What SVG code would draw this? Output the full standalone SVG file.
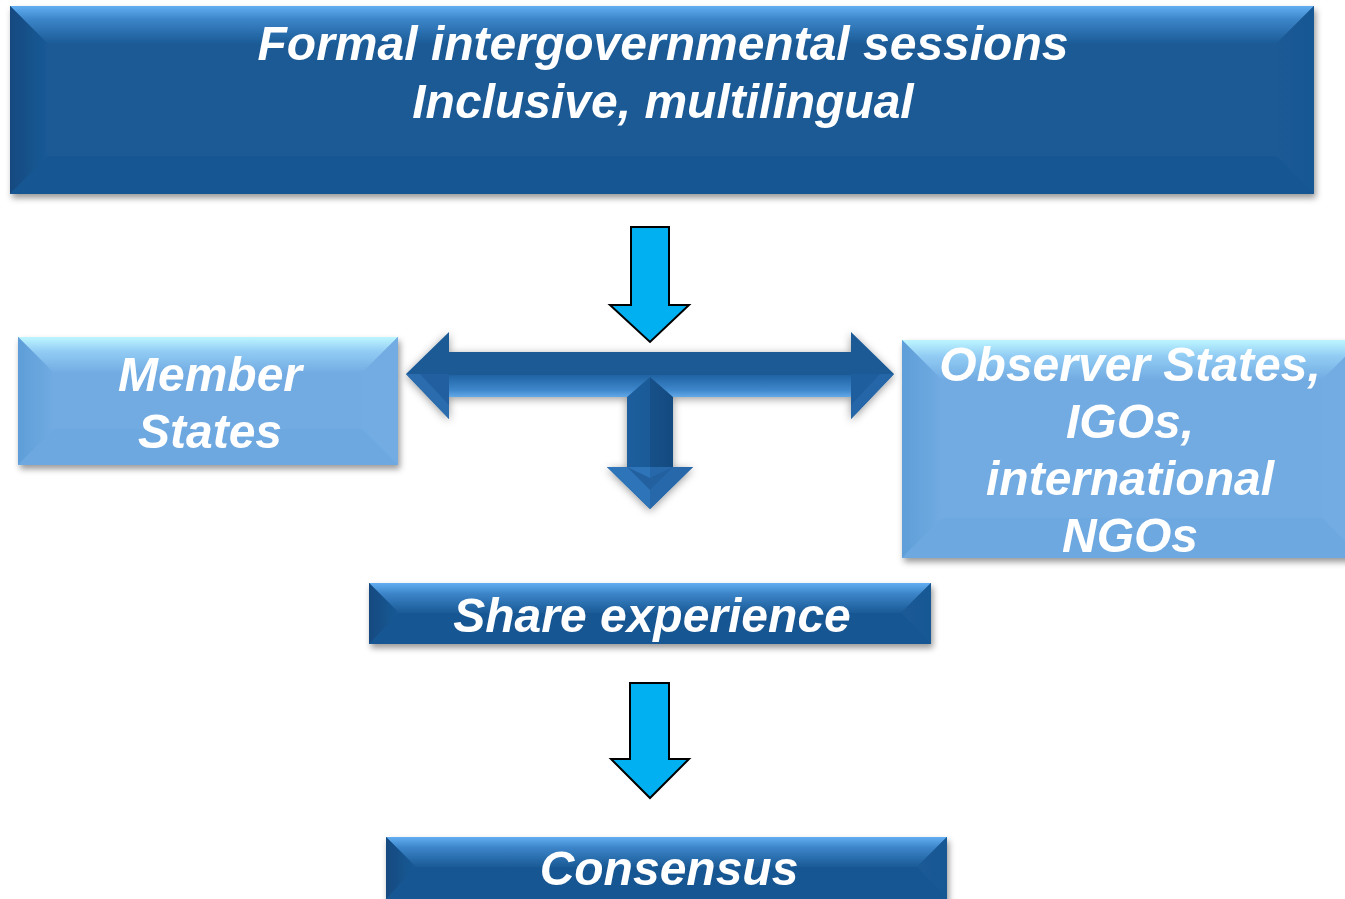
<svg xmlns="http://www.w3.org/2000/svg" width="1345" height="899" viewBox="0 0 1345 899">
<defs>
<style>
.t{font-family:"Liberation Sans",Arial,sans-serif;font-weight:bold;font-style:italic;font-size:48px;fill:#fff;text-anchor:middle}
.dm{fill:#1A5A96}
.dt{fill:url(#gDT)}
.dl{fill:url(#gDL)}
.dr{fill:url(#gDR)}
.db{fill:#185692}
.lm{fill:#71ABE2}
.lt{fill:url(#gLT)}
.ll{fill:url(#gLL)}
.lr{fill:#72ACE2}
.lb{fill:#6DA8E0}
.cy{fill:#00B0F0;stroke:#000;stroke-width:2;stroke-linejoin:miter}
</style>
<linearGradient id="gDT" x1="0" y1="0" x2="0" y2="1">
<stop offset="0" stop-color="#63AEF2"/><stop offset="0.35" stop-color="#3C85C9"/><stop offset="1" stop-color="#1A5A96"/>
</linearGradient>
<linearGradient id="gDL" x1="0" y1="0" x2="1" y2="0">
<stop offset="0" stop-color="#134A80"/><stop offset="1" stop-color="#1A5A96"/>
</linearGradient>
<linearGradient id="gDR" x1="0" y1="0" x2="1" y2="0">
<stop offset="0" stop-color="#1A5A96"/><stop offset="1" stop-color="#195893"/>
</linearGradient>
<linearGradient id="gLT" x1="0" y1="0" x2="0" y2="1">
<stop offset="0" stop-color="#BDF6FF"/><stop offset="0.4" stop-color="#92CCF4"/><stop offset="1" stop-color="#71ABE2"/>
</linearGradient>
<linearGradient id="gLL" x1="0" y1="0" x2="1" y2="0">
<stop offset="0" stop-color="#5E9ED8"/><stop offset="1" stop-color="#71ABE2"/>
</linearGradient>
<linearGradient id="gStrip" x1="0" y1="0" x2="0" y2="1">
<stop offset="0" stop-color="#1F63A4"/><stop offset="0.7" stop-color="#3F88CB"/><stop offset="1" stop-color="#62A9E8"/>
</linearGradient>
<linearGradient id="gStem" x1="0" y1="0" x2="1" y2="0">
<stop offset="0" stop-color="#1C5E9E"/><stop offset="0.5" stop-color="#1A5A97"/><stop offset="0.5" stop-color="#175088"/><stop offset="1" stop-color="#134A80"/>
</linearGradient>
<filter id="sh" x="-5%" y="-10%" width="110%" height="130%">
<feDropShadow dx="2" dy="4" stdDeviation="3" flood-color="#000" flood-opacity="0.4"/>
</filter>
<filter id="ash" x="-10%" y="-20%" width="120%" height="150%">
<feDropShadow dx="0" dy="2" stdDeviation="4" flood-color="#000" flood-opacity="0.4"/>
</filter>
</defs>
<rect width="1345" height="899" fill="#fff"/>

<g id="connectors">
<g id="arrow-top">
<polygon class="cy" points="631,227 669,227 669,305 689,305 650,342 610,305 631,305"/>
</g>
<g id="arrow-split">
<path class="dm" filter="url(#ash)" d="M406,374 L449,332 L449,352 L851,352 L851,332 L894,374 L851,419 L851,397 L673,397 L673,467 L693,467 L650,509 L607,467 L627,467 L627,397 L449,397 L449,419 Z"/>
<rect x="449" y="375" width="402" height="22" fill="url(#gStrip)"/>
<polygon points="406,374 449,374 449,419" fill="#2A6CAD"/>
<polygon points="449,374 420,374 449,405" fill="#225FA0"/>
<polygon points="894,374 851,374 851,419" fill="#2566A8"/>
<polygon points="851,374 880,374 851,405" fill="#1F5E9E"/>
<polygon points="627,397 650,377 673,397 673,467 627,467" fill="url(#gStem)"/>
<polygon points="607,467 650,467 650,509" fill="#2E74B8"/>
<polygon points="650,467 693,467 650,509" fill="#2668AA"/>
<polygon points="627,467 650,478 673,467 650,490" fill="#2260A0"/>
</g>
<g id="arrow-bottom">
<polygon class="cy" points="630,683 669,683 669,759 689,759 650,798 611,759 630,759"/>
</g>
</g>

<g id="node-formal" filter="url(#sh)">
<rect class="dm" x="10" y="6" width="1304" height="188"/>
<polygon class="dt" points="10,6 1314,6 1276,44 48,44"/>
<polygon class="dl" points="10,6 48,44 48,156 10,194"/>
<polygon class="dr" points="1314,6 1276,44 1276,156 1314,194"/>
<polygon class="db" points="10,194 48,156 1276,156 1314,194"/>
<text class="t" x="663" y="60">Formal intergovernmental sessions</text>
<text class="t" x="663" y="118">Inclusive, multilingual</text>
</g>

<g id="node-member" filter="url(#sh)">
<rect class="lm" x="18" y="337" width="380" height="128"/>
<polygon class="lt" points="18,337 398,337 362,373 54,373"/>
<polygon class="ll" points="18,337 54,373 54,429 18,465"/>
<polygon class="lr" points="398,337 362,373 362,429 398,465"/>
<polygon class="lb" points="18,465 54,429 362,429 398,465"/>
<text class="t" x="210" y="391">Member</text>
<text class="t" x="210" y="448">States</text>
</g>

<g id="node-observer" filter="url(#sh)">
<rect class="lm" x="902" y="340" width="460" height="218"/>
<polygon class="lt" points="902,340 1362,340 1322,380 942,380"/>
<polygon class="ll" points="902,340 942,380 942,518 902,558"/>
<polygon class="lr" points="1362,340 1322,380 1322,518 1362,558"/>
<polygon class="lb" points="902,558 942,518 1322,518 1362,558"/>
<text class="t" x="1130" y="381">Observer States,</text>
<text class="t" x="1130" y="438">IGOs,</text>
<text class="t" x="1130" y="495">international</text>
<text class="t" x="1130" y="552">NGOs</text>
</g>

<g id="node-share" filter="url(#sh)">
<rect class="dm" x="369" y="583" width="562" height="61"/>
<polygon class="dt" points="369,583 931,583 901,613 399,613"/>
<polygon class="dl" points="369,583 399,613 369,644"/>
<polygon class="dr" points="931,583 901,613 931,644"/>
<polygon class="db" points="369,644 399,613 901,613 931,644"/>
<text class="t" x="652" y="632">Share experience</text>
</g>

<g id="node-consensus" filter="url(#sh)">
<rect class="dm" x="386" y="837" width="561" height="64"/>
<polygon class="dt" points="386,837 947,837 917,867 416,867"/>
<polygon class="dl" points="386,837 416,867 386,899"/>
<polygon class="dr" points="947,837 917,867 947,899"/>
<polygon class="db" points="386,899 416,867 917,867 947,899"/>
<text class="t" x="669" y="885">Consensus</text>
</g>
</svg>
